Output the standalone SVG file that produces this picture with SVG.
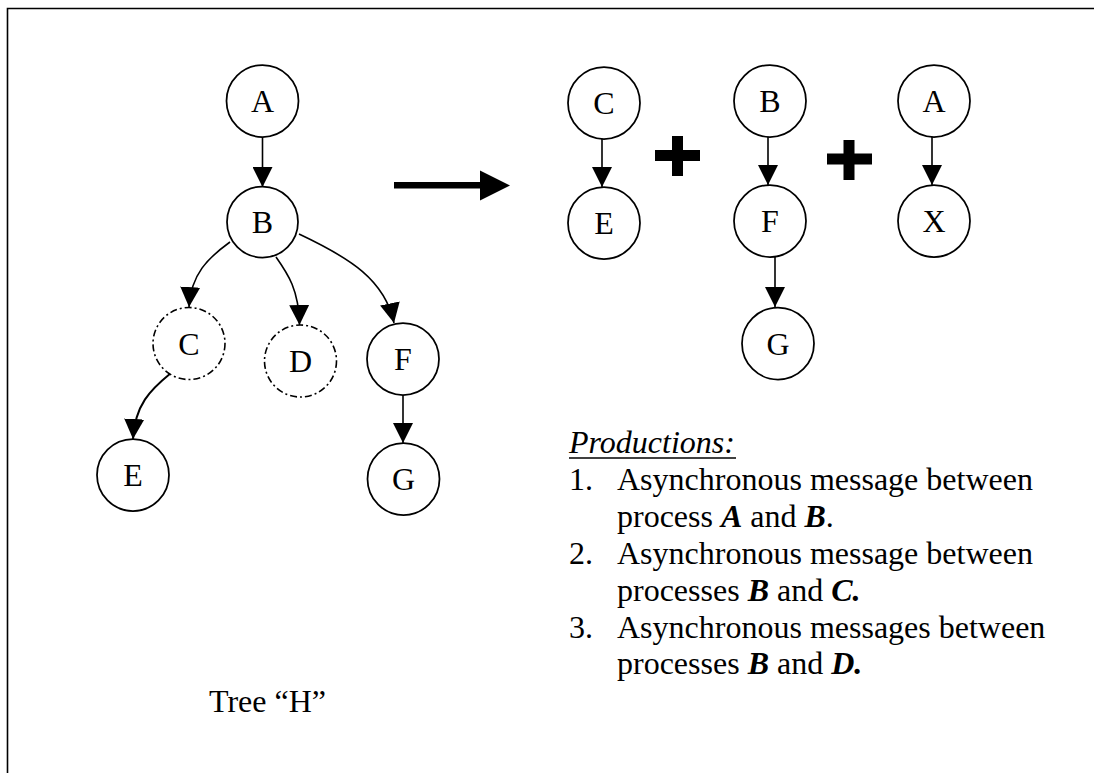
<svg xmlns="http://www.w3.org/2000/svg" width="1094" height="773" viewBox="0 0 1094 773">
  <style>
    .node { fill: #fff; stroke: #000; stroke-width: 1.75; }
    .virtual { fill: #fff; stroke: #000; stroke-width: 1.6; stroke-dasharray: 7 3 2 3; }
    .label { font-family: "Liberation Serif", "Times New Roman", serif; font-size: 32px; fill: #000; text-anchor: middle; }
    .edge { fill: none; stroke: #000; stroke-width: 1.6; marker-end: url(#head); }
    .txt { font-family: "Liberation Serif", "Times New Roman", serif; font-size: 32px; fill: #000; }
    .bi { font-weight: bold; font-style: italic; }
  </style>
  <defs>
    <marker id="head" markerUnits="userSpaceOnUse" markerWidth="21" markerHeight="20" refX="20" refY="10" orient="auto">
      <path d="M0,0 L20,10 L0,20 Z" fill="#000"/>
    </marker>
  </defs>
  <rect width="1094" height="773" fill="#fff"/>
  <!-- frame -->
  <path d="M7.5,773 V8.5 H1094" fill="none" stroke="#000" stroke-width="1.6"/>

  <!-- connectors -->
  <g id="connectors">
    <path class="edge" d="M262.5,137 L262.5,187"/>
    <path class="edge" d="M230,242 C208,258 191,274 189,307"/>
    <path class="edge" d="M276,257 C288,274 299,290 299.5,325"/>
    <path class="edge" d="M299,234 C350,258 385,280 394,323"/>
    <path class="edge" style="stroke-width:2" d="M171,373 C150,390 135,405 133,439"/>
    <path class="edge" d="M403,395 L403,443"/>
    <path class="edge" d="M602,139 L602,187"/>
    <path class="edge" d="M768,137 L768,185"/>
    <path class="edge" d="M775,257 L775,307"/>
    <path class="edge" d="M932,137 L932,185"/>
  </g>

  <!-- tree H -->
  <g id="tA"><circle class="node" cx="262.5" cy="101" r="36"/><text class="label" x="262.5" y="112">A</text></g>
  <g id="tB"><circle class="node" cx="262.5" cy="222" r="35.5"/><text class="label" x="262.5" y="233">B</text></g>
  <g id="tC"><circle class="virtual" cx="189" cy="343.5" r="36"/><text class="label" x="189" y="355">C</text></g>
  <g id="tD"><circle class="virtual" cx="300.5" cy="361" r="36"/><text class="label" x="300.5" y="372">D</text></g>
  <g id="tF"><circle class="node" cx="403" cy="359" r="36"/><text class="label" x="403" y="370">F</text></g>
  <g id="tE"><circle class="node" cx="133" cy="475" r="36"/><text class="label" x="133" y="486">E</text></g>
  <g id="tG"><circle class="node" cx="403.5" cy="479" r="36"/><text class="label" x="403.5" y="490">G</text></g>
  <text class="txt" x="209" y="712">Tree “H”</text>

  <!-- transformation arrow -->
  <g id="transform">
    <rect x="394" y="182" width="88" height="6.5" fill="#000"/>
    <path d="M480,170.5 L510,185.5 L480,200.5 Z" fill="#000"/>
  </g>

  <!-- resulting subtrees -->
  <g id="sC"><circle class="node" cx="604" cy="103" r="36"/><text class="label" x="604" y="114">C</text></g>
  <g id="sE"><circle class="node" cx="604" cy="223" r="36"/><text class="label" x="604" y="234">E</text></g>
  <g id="sB"><circle class="node" cx="770" cy="101" r="36"/><text class="label" x="770" y="112">B</text></g>
  <g id="sF"><circle class="node" cx="770" cy="221" r="36"/><text class="label" x="770" y="232">F</text></g>
  <g id="sG"><circle class="node" cx="778" cy="343.5" r="36"/><text class="label" x="778" y="355">G</text></g>
  <g id="sA"><circle class="node" cx="934" cy="101" r="36"/><text class="label" x="934" y="112">A</text></g>
  <g id="sX"><circle class="node" cx="934" cy="221" r="36"/><text class="label" x="934" y="232">X</text></g>

  <!-- plus signs -->
  <g id="plus1" fill="#000">
    <rect x="655" y="150" width="45" height="11"/>
    <rect x="672" y="136" width="11" height="40"/>
  </g>
  <g id="plus2" fill="#000">
    <rect x="827" y="153.5" width="45" height="11"/>
    <rect x="843.5" y="140" width="11" height="40"/>
  </g>

  <!-- productions list -->
  <g id="productions">
    <text class="txt" x="569" y="453" font-style="italic">Productions:</text>
    <line x1="569" y1="458" x2="736" y2="458" stroke="#000" stroke-width="1.6"/>
    <text class="txt" x="569" y="490">1.</text>
    <text class="txt" x="617" y="490">Asynchronous message between</text>
    <text class="txt" x="617" y="527">process <tspan class="bi">A</tspan> and <tspan class="bi">B</tspan>.</text>
    <text class="txt" x="569" y="564">2.</text>
    <text class="txt" x="617" y="564">Asynchronous message between</text>
    <text class="txt" x="617" y="601">processes <tspan class="bi">B</tspan> and <tspan class="bi">C.</tspan></text>
    <text class="txt" x="569" y="638">3.</text>
    <text class="txt" x="617" y="638">Asynchronous messages between</text>
    <text class="txt" x="617" y="674">processes <tspan class="bi">B</tspan> and <tspan class="bi">D.</tspan></text>
  </g>
</svg>
